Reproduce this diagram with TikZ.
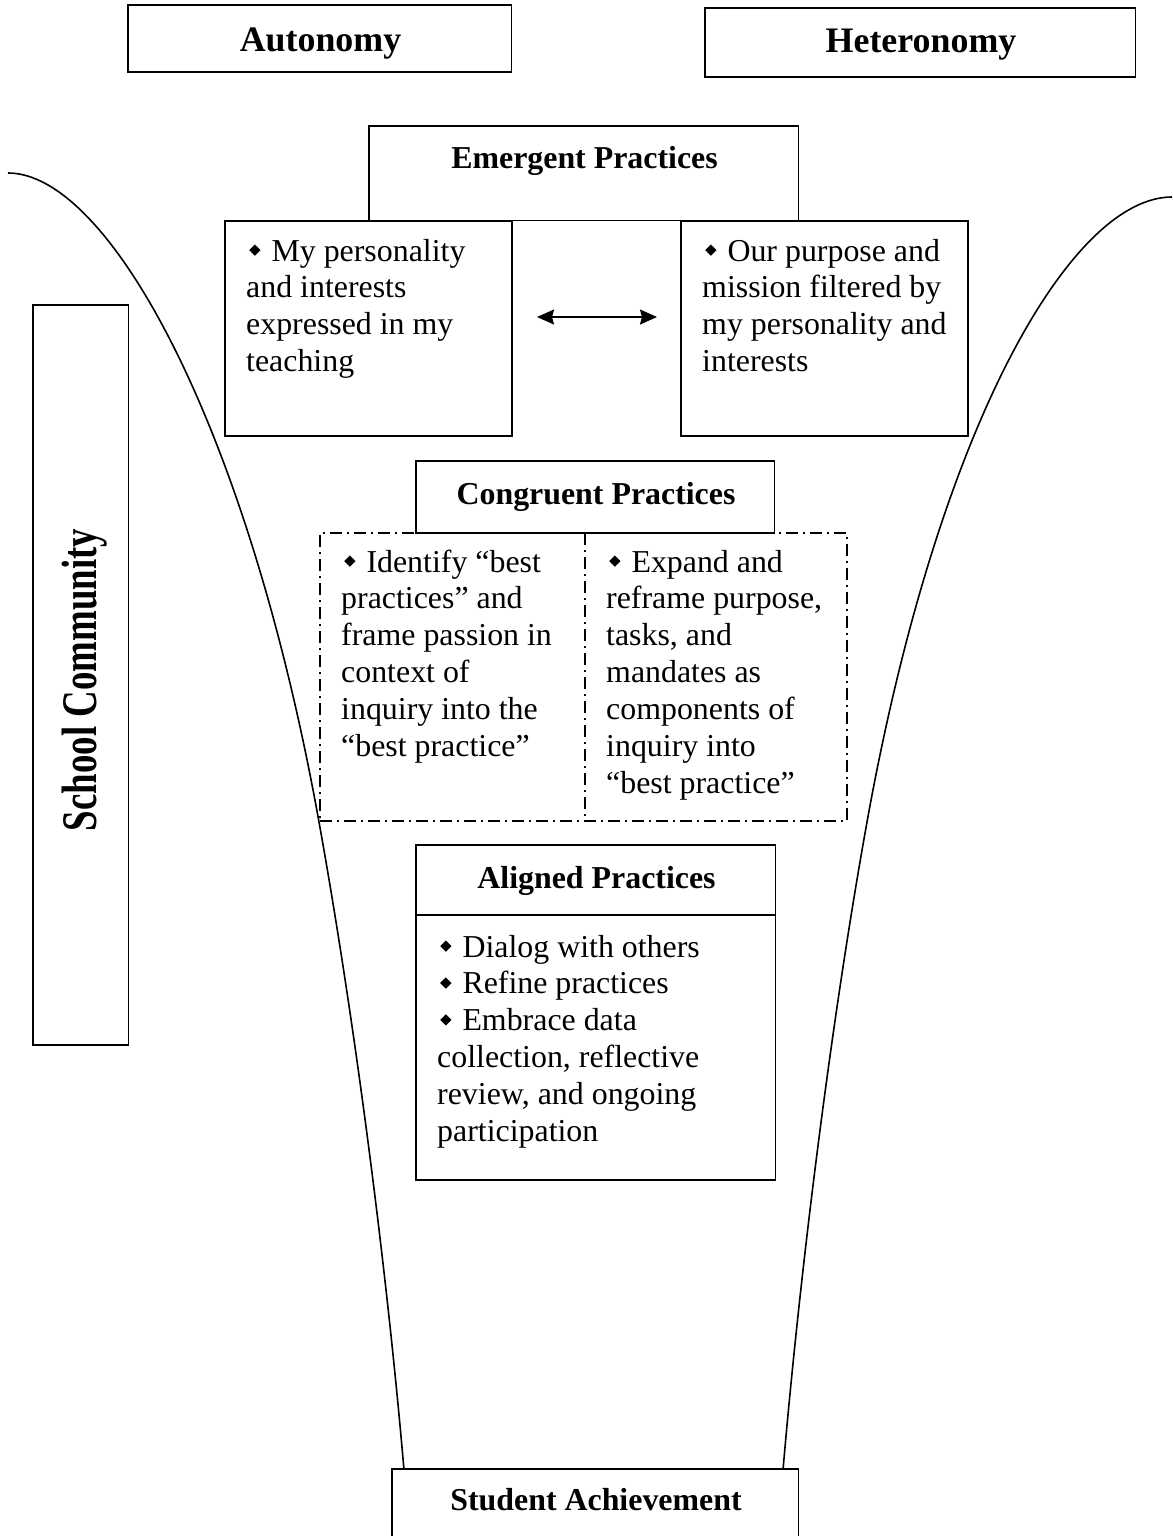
\documentclass[tikz,border=0pt]{standalone}
\usepackage{fontspec}
\usepackage{graphicx}
\setmainfont{Liberation Serif}
\usetikzlibrary{arrows.meta}
\newcommand{\bul}{\hspace{3bp}\raisebox{5.2bp}{\rotatebox{45}{\rule{8bp}{8bp}}}\hspace{11bp}}
\begin{document}
\begin{tikzpicture}[x=1bp,y=-1bp,
  box/.style={draw, line width=1.6bp, fill=white, inner sep=0, outer sep=0, anchor=north west},
  dbox/.style={draw, line width=1.4bp, dash pattern=on 12bp off 5bp on 2bp off 5bp, inner sep=0, outer sep=0, anchor=north west},
  hdr/.style={font=\fontsize{32}{37}\selectfont\bfseries, inner sep=0, anchor=base},
  bighdr/.style={font=\fontsize{36}{41}\selectfont\bfseries, inner sep=0, anchor=base},
  txt/.style={font=\fontsize{32}{37}\selectfont, align=left, inner sep=0, anchor=north west},
  curve/.style={line width=1.6bp},
  dblarrow/.style={line width=1.6bp, >={Stealth[length=17bp,width=15bp,inset=2bp]}, <->}]
\clip (0,0) rectangle (1172,1536);
\fill[white] (0,0) rectangle (1172,1536);

% funnel curves
\draw[curve] (8,173) .. controls (108,173) and (247,422) .. (319,822)
                     .. controls (355,1022) and (386.8,1270) .. (404,1470);
\draw[curve] (1172,197) .. controls (1072,197) and (939,422) .. (867,822)
                        .. controls (831,1022) and (800.2,1270) .. (783,1470);

% top boxes
\node[box, minimum width=385, minimum height=67] (autbox) at (128,5) {};
\node[bighdr] (aut) at (320.5,52) {Autonomy};
\node[box, minimum width=432, minimum height=69] (hetbox) at (705,8) {};
\node[bighdr] (het) at (921,53) {Heteronomy};

% school community
\node[box, minimum width=96, minimum height=743] (scbox) at (33,305) {};
\node[font=\fontsize{37}{42}\selectfont\bfseries, inner sep=0, anchor=base, rotate=90] (sc) at (96,680) {\scalebox{1}[1.35]{School Community}};

% emergent practices
\node[box, minimum width=288, minimum height=216] (emL) at (225,221) {};
\node[box, minimum width=288, minimum height=216] (emR) at (681,221) {};
\node[box, minimum width=431, minimum height=95] (emH) at (369,126) {};
\node[hdr] (emT) at (584.5,168) {Emergent Practices};
\node[txt] (emLt) at (246,235) {\strut\bul My personality\\and interests\\expressed in my\\teaching};
\node[txt] (emRt) at (702,235) {\strut\bul Our purpose and\\mission filtered by\\my personality and\\interests};
\coordinate (arA) at (537,317);
\coordinate (arB) at (657,317);
\draw[dblarrow] (arA) -- (arB);

% congruent practices
\node[dbox, minimum width=529, minimum height=289] (cgB) at (320,533) {};
\draw[line width=1.4bp, dash pattern=on 12bp off 5bp on 2bp off 5bp] (cgB.north west -| 585,0) -- (cgB.south west -| 585,0);
\node[box, minimum width=360, minimum height=72] (cgH) at (416,461) {};
\node[hdr] (cgT) at (596,504) {Congruent Practices};
\node[txt] (cgLt) at (341,546) {\strut\bul Identify “best\\practices” and\\frame passion in\\context of\\inquiry into the\\“best practice”};
\node[txt] (cgRt) at (606,546) {\strut\bul Expand and\\reframe purpose,\\tasks, and\\mandates as\\components of\\inquiry into\\“best practice”};

% aligned practices
\node[box, minimum width=361, minimum height=70] (alH) at (416,845) {};
\node[hdr] (alT) at (596.5,888) {Aligned Practices};
\node[box, minimum width=361, minimum height=266] (alB) at (416,915) {};
\node[txt] (alBt) at (437,931) {\strut\bul Dialog with others\\\bul Refine practices\\\bul Embrace data\\collection, reflective\\review, and ongoing\\participation};

% student achievement
\node[box, minimum width=408, minimum height=90] (saB) at (392,1469) {};
\node[hdr] (saT) at (596,1510) {Student Achievement};
\end{tikzpicture}
\end{document}
